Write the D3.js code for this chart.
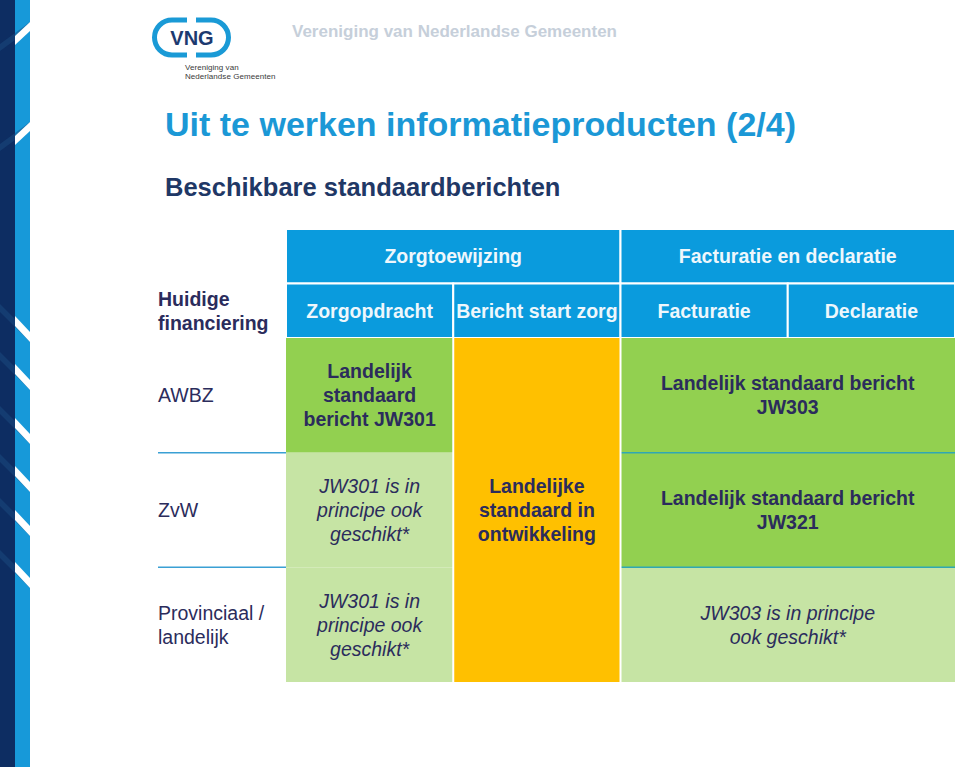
<!DOCTYPE html>
<html><head><meta charset="utf-8">
<script src="https://cdn.jsdelivr.net/npm/d3@7/dist/d3.min.js"></script>
<style>body{margin:0;background:#fff}svg{display:block}</style>
</head><body>
<script>
// ---- data ----
const title = "Uit te werken informatieproducten (2/4)";
const subtitle = "Beschikbare standaardberichten";
const orgName = "Vereniging van Nederlandse Gemeenten";
const columnGroups = [
  {label:"Zorgtoewijzing", start:0, span:2},
  {label:"Facturatie en declaratie", start:2, span:2}
];
const columns = ["Zorgopdracht","Bericht start zorg","Facturatie","Declaratie"];
const cornerLabel = ["Huidige","financiering"];
const rowLabels = [["AWBZ"],["ZvW"],["Provinciaal /","landelijk"]];
// cells: row, col, rowSpan, colSpan, status, lines
const cells = [
  {row:0,col:0,rs:1,cs:1,status:"landelijk",lines:["Landelijk","standaard","bericht JW301"]},
  {row:1,col:0,rs:1,cs:1,status:"geschikt",lines:["JW301 is in","principe ook","geschikt*"]},
  {row:2,col:0,rs:1,cs:1,status:"geschikt",lines:["JW301 is in","principe ook","geschikt*"]},
  {row:0,col:1,rs:3,cs:1,status:"ontwikkeling",lines:["Landelijke","standaard in","ontwikkeling"]},
  {row:0,col:2,rs:1,cs:2,status:"landelijk",lines:["Landelijk standaard bericht","JW303"]},
  {row:1,col:2,rs:1,cs:2,status:"landelijk",lines:["Landelijk standaard bericht","JW321"]},
  {row:2,col:2,rs:1,cs:2,status:"geschikt",lines:["JW303 is in principe","ook geschikt*"]}
];
const statusFill = {landelijk:"#92d050", geschikt:"#c6e4a4", ontwikkeling:"#ffc000"};
const statusItalic = {landelijk:false, geschikt:true, ontwikkeling:false};

// ---- layout ----
const W=960,H=767;
const FONT="'Liberation Sans', Arial, Helvetica, sans-serif";
const navy="#2b2c5c", hdrBlue="#0a9bdd";
const svg=d3.select("body").append("svg").attr("width",W).attr("height",H);

// left decoration
const deco=svg.append("g");
deco.append("rect").attr("x",0).attr("y",0).attr("width",15).attr("height",H).attr("fill","#0d2d62");
deco.append("rect").attr("x",15).attr("y",0).attr("width",15).attr("height",H).attr("fill","#1799d9");
const slashUp=[22,122], slashDown=[316,364,418,466,510,562];
slashUp.forEach(y=>{
  deco.append("path").attr("d",`M0,${y+22}L30,${y}L30,${y+7}L0,${y+29}Z`).attr("fill","#1b4b80").attr("opacity",0.5);
  deco.append("path").attr("d",`M15,${y+14}L30,${y}L30,${y+9}L15,${y+23}Z`).attr("fill","#fff");
});
slashDown.forEach(y=>{
  deco.append("path").attr("d",`M0,${y-12}L30,${y+18}L30,${y+26}L0,${y-4}Z`).attr("fill","#1b4b80").attr("opacity",0.5);
  deco.append("path").attr("d",`M15,${y}L30,${y+16}L30,${y+26}L15,${y+10}Z`).attr("fill","#fff");
});

// logo
const logo=svg.append("g");
const lb="#1a9ad6";
logo.append("path").attr("d","M187,20 L172,20 A17.5,17.5 0 0 0 172,55 L187,55")
  .attr("fill","none").attr("stroke",lb).attr("stroke-width",5);
logo.append("path").attr("d","M196,20 L211,20 A17.5,17.5 0 0 1 211,55 L196,55")
  .attr("fill","none").attr("stroke",lb).attr("stroke-width",5);
logo.append("text").attr("x",192).attr("y",45).attr("text-anchor","middle")
  .attr("font-family",FONT).attr("font-weight","bold").attr("font-size",20)
  .attr("fill","#1d3a70").text("VNG");
logo.append("text").attr("x",185).attr("y",70).attr("font-family",FONT).attr("font-size",8)
  .attr("fill","#3a3a3a").attr("letter-spacing",0.05).text("Vereniging van");
logo.append("text").attr("x",185).attr("y",79).attr("font-family",FONT).attr("font-size",8)
  .attr("fill","#3a3a3a").attr("letter-spacing",0.05).text("Nederlandse Gemeenten");

svg.append("text").attr("x",292).attr("y",37).attr("font-family",FONT).attr("font-weight","bold")
  .attr("font-size",17).attr("fill","#c6cfda").text(orgName);
svg.append("text").attr("x",165).attr("y",136).attr("font-family",FONT).attr("font-weight","bold")
  .attr("font-size",34).attr("fill","#1b98d6").text(title);
svg.append("text").attr("x",165).attr("y",196).attr("font-family",FONT).attr("font-weight","bold")
  .attr("font-size",25.5).attr("fill","#1f3866").text(subtitle);

// scales
const x=d3.scaleLinear().domain([0,columns.length]).range([286,955]);
const yHead=d3.scaleLinear().domain([0,2]).range([229,338]);
const yBody=d3.scaleLinear().domain([0,rowLabels.length]).range([338,682]);
const fs=19.5, lh=24;

function lineText(g,cx,cy,lines,opts){
  const t=g.append("text").attr("text-anchor","middle").attr("font-family",FONT)
    .attr("font-size",fs).attr("fill",opts.fill||navy)
    .attr("font-weight",opts.bold?"bold":"normal").attr("font-style",opts.italic?"italic":"normal");
  const n=lines.length;
  lines.forEach((l,i)=>{
    t.append("tspan").attr("x",cx).attr("y",cy+(i-(n-1)/2)*lh+fs*0.36).text(l);
  });
}

// header
const hg=svg.append("g");
columnGroups.forEach(g=>{
  hg.append("rect").attr("x",x(g.start)).attr("y",yHead(0)).attr("width",x(g.start+g.span)-x(g.start))
    .attr("height",yHead(1)-yHead(0)).attr("fill",hdrBlue).attr("stroke","#fff").attr("stroke-width",2);
  lineText(hg,(x(g.start)+x(g.start+g.span))/2,(yHead(0)+yHead(1))/2,[g.label],{bold:true,fill:"#eef7fc"});
});
columns.forEach((c,i)=>{
  hg.append("rect").attr("x",x(i)).attr("y",yHead(1)).attr("width",x(i+1)-x(i))
    .attr("height",yHead(2)-yHead(1)).attr("fill",hdrBlue).attr("stroke","#fff").attr("stroke-width",2);
  lineText(hg,(x(i)+x(i+1))/2,(yHead(1)+yHead(2))/2,[c],{bold:true,fill:"#eef7fc"});
});

// body cells
const bg=svg.append("g");
cells.forEach(c=>{
  const x0=x(c.col),x1=x(c.col+c.cs),y0=yBody(c.row),y1=yBody(c.row+c.rs);
  bg.append("rect").attr("x",x0).attr("y",y0).attr("width",x1-x0).attr("height",y1-y0)
    .attr("fill",statusFill[c.status]);
  lineText(bg,(x0+x1)/2,(y0+y1)/2,c.lines,{bold:!statusItalic[c.status],italic:statusItalic[c.status]});
});
// separators between right-hand body rows (teal)
[1,2].forEach(r=>{
  bg.append("line").attr("x1",x(2)).attr("x2",x(4)).attr("y1",yBody(r)).attr("y2",yBody(r))
    .attr("stroke","#2fa7b4").attr("stroke-width",1.5);
});
// vertical white separators
[1,2].forEach(i=>{
  bg.append("line").attr("x1",x(i)).attr("x2",x(i)).attr("y1",yBody(0)).attr("y2",yBody(3))
    .attr("stroke","#fff").attr("stroke-width",2);
});

// row labels
const rg=svg.append("g");
const lx=158;
const ct=rg.append("text").attr("font-family",FONT).attr("font-weight","bold").attr("font-size",fs).attr("fill",navy);
cornerLabel.forEach((l,i)=>ct.append("tspan").attr("x",lx).attr("y",(yHead(1)+yHead(2))/2+(i-0.5)*lh+fs*0.36).text(l));
rowLabels.forEach((lines,r)=>{
  const cy=(yBody(r)+yBody(r+1))/2;
  const t=rg.append("text").attr("font-family",FONT).attr("font-size",fs).attr("fill",navy);
  lines.forEach((l,i)=>t.append("tspan").attr("x",lx).attr("y",cy+(i-(lines.length-1)/2)*lh+fs*0.36).text(l));
  if(r>0){
    rg.append("line").attr("x1",lx).attr("x2",x(0)).attr("y1",yBody(r)).attr("y2",yBody(r))
      .attr("stroke","#3aa0d4").attr("stroke-width",1.5);
  }
});
</script>
</body></html>
